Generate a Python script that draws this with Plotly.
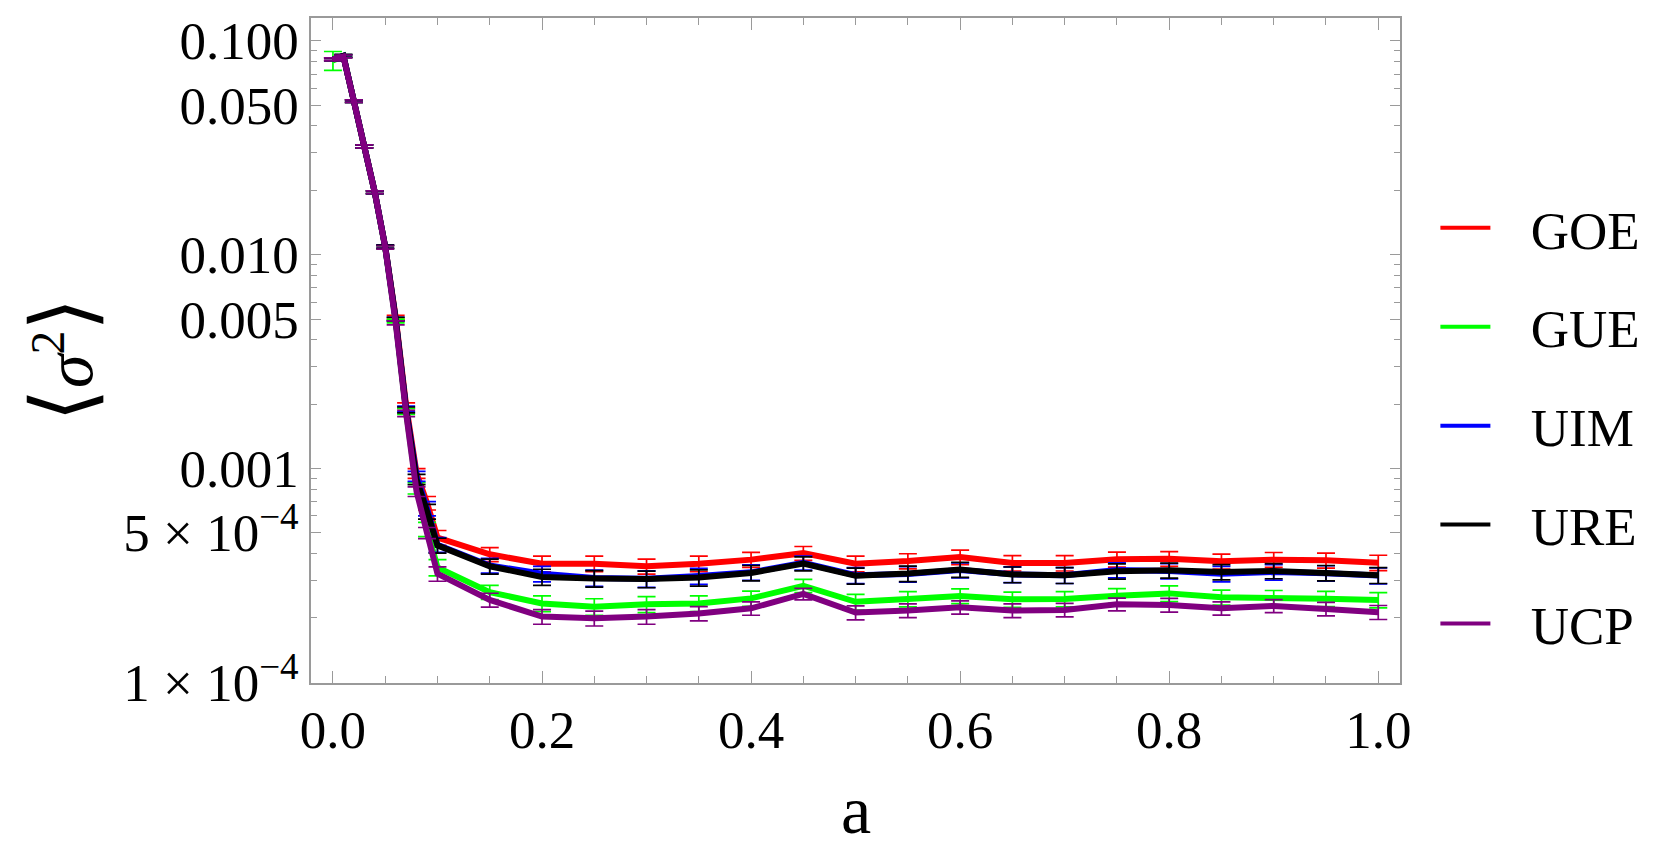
import plotly.graph_objects as go

# --------------------------------------------
# Data
# --------------------------------------------

a_vals = [0.0, 0.01, 0.02, 0.03, 0.04, 0.05, 0.06, 0.07, 0.08, 0.09, 0.1,
          0.15, 0.2, 0.25, 0.3, 0.35, 0.4, 0.45, 0.5, 0.55, 0.6, 0.65,
          0.7, 0.75, 0.8, 0.85, 0.9, 0.95, 1.0]

goe = [0.082, 0.085, 0.0523, 0.0321, 0.0196, 0.0109, 0.0051, 0.00197, 0.00095, 0.00069, 0.000475,
       0.000397, 0.000359, 0.000359, 0.000349, 0.000359, 0.000375, 0.000402, 0.000359,
       0.0003695, 0.0003855, 0.0003617, 0.0003617, 0.0003761, 0.0003788, 0.0003682,
       0.0003748, 0.0003721, 0.000363]
gue = [0.081, 0.085, 0.0523, 0.0321, 0.0196, 0.0108, 0.0049, 0.00185, 0.00081, 0.00052, 0.000345,
       0.000264, 0.000234, 0.000226, 0.000232, 0.000234, 0.000247, 0.000283, 0.000238,
       0.0002454, 0.0002534, 0.0002445, 0.0002454, 0.0002543, 0.0002607, 0.0002498,
       0.0002489, 0.0002463, 0.0002428]
uim = [0.082, 0.085, 0.0523, 0.0321, 0.0196, 0.0109, 0.0050, 0.00190, 0.00092, 0.00065, 0.00044,
       0.000352, 0.000322, 0.000308, 0.000305, 0.000314, 0.000327, 0.000362, 0.000317,
       0.000321, 0.000335, 0.000320, 0.000317, 0.000335, 0.000332, 0.000322,
       0.000328, 0.000324, 0.000316]
ure = [0.082, 0.085, 0.0523, 0.0321, 0.0196, 0.0109, 0.0050, 0.00188, 0.00089, 0.00063, 0.000437,
       0.000349, 0.000311, 0.000306, 0.000304, 0.000309, 0.000325, 0.000359, 0.000315,
       0.0003227, 0.0003368, 0.0003193, 0.000317, 0.0003309, 0.0003344, 0.0003285,
       0.0003321, 0.000325, 0.000317]
ucp = [0.082, 0.0846, 0.0523, 0.0321, 0.0196, 0.0108, 0.0048, 0.00181, 0.00078, 0.00050, 0.000322,
       0.000243, 0.000203, 0.0001995, 0.000203, 0.000210, 0.000222, 0.000259, 0.000212,
       0.0002166, 0.0002245, 0.0002166, 0.0002182, 0.0002318, 0.0002301, 0.0002221,
       0.0002277, 0.0002205, 0.0002128]

# error bar half-lengths
goe_err = [0.0012, 0.0013, 0.0007, 0.0005, 0.0003, 0.00018, 0.0001, 0.00006, 0.00005, 0.00005, 0.000038,
           0.00003, 0.00003, 0.00003, 0.000028, 0.00003, 0.00003, 0.00003, 0.00003,
           0.00003, 0.00003, 0.00003, 0.00003, 0.00003, 0.00003, 0.00003,
           0.00003, 0.00003, 0.00003]
gue_err = [0.0082, 0.0013, 0.0007, 0.0005, 0.0003, 0.00018, 0.0001, 0.00006, 0.00005, 0.00004, 0.00003,
           0.00002, 0.00002, 0.00002, 0.00002, 0.00002, 0.00002, 0.00002, 0.00002,
           0.00002, 0.00002, 0.00002, 0.00002, 0.00002, 0.000022, 0.00002,
           0.00002, 0.00002, 0.00002]
uim_err = [0.0012, 0.0013, 0.0007, 0.0005, 0.0003, 0.00018, 0.0001, 0.00006, 0.00005, 0.00005, 0.000035,
           0.000028, 0.000027, 0.000027, 0.000027, 0.000027, 0.000027, 0.000027, 0.000027,
           0.000027, 0.000027, 0.000027, 0.000027, 0.000027, 0.000027, 0.000027,
           0.000027, 0.000027, 0.000027]
ure_err = [0.0012, 0.0013, 0.0007, 0.0005, 0.0003, 0.00018, 0.0001, 0.00006, 0.00005, 0.00005, 0.000035,
           0.000028, 0.000027, 0.000027, 0.000027, 0.000027, 0.000027, 0.000027, 0.000027,
           0.000027, 0.000027, 0.000027, 0.000027, 0.000027, 0.000027, 0.000027,
           0.000027, 0.000027, 0.000027]
ucp_err = [0.0012, 0.0013, 0.0007, 0.0005, 0.0003, 0.00018, 0.0001, 0.00006, 0.00004, 0.00003, 0.000025,
           0.000018, 0.000016, 0.000016, 0.000016, 0.000016, 0.000016, 0.000016, 0.000016,
           0.000016, 0.000016, 0.000016, 0.000016, 0.000016, 0.000017, 0.000016,
           0.000016, 0.000016, 0.000016]

series_names = ["GOE", "GUE", "UIM", "URE", "UCP"]
series_colors = ["#FF0000", "#00FF00", "#0000FF", "#000000", "#800080"]

y_tickvals = [1e-4, 5e-4, 1e-3, 5e-3, 1e-2, 5e-2, 1e-1]
y_ticktext = ["1 × 10<sup>−4</sup>", "5 × 10<sup>−4</sup>", "0.001", "0.005",
              "0.010", "0.050", "0.100"]
y_minor = [2e-4, 3e-4, 4e-4, 6e-4, 7e-4, 8e-4, 9e-4,
           2e-3, 3e-3, 4e-3, 6e-3, 7e-3, 8e-3, 9e-3,
           2e-2, 3e-2, 4e-2, 6e-2, 7e-2, 8e-2, 9e-2]
x_tickvals = [0.0, 0.2, 0.4, 0.6, 0.8, 1.0]
x_ticktext = ["0.0", "0.2", "0.4", "0.6", "0.8", "1.0"]

FONT = "Liberation Serif, Times New Roman, serif"
AXIS_GREY = "#9a9a9a"
PAD = "\u00a0\u00a0\u2006"  # gap between legend line and label

# --------------------------------------------
# Figure
# --------------------------------------------

fig = go.Figure()

all_y = [goe, gue, uim, ure, ucp]
all_err = [goe_err, gue_err, uim_err, ure_err, ucp_err]

for name, color, ys, errs in zip(series_names, series_colors, all_y, all_err):
    fig.add_trace(go.Scatter(
        x=a_vals, y=ys, mode="lines", name=name, showlegend=False,
        line=dict(color=color, width=6),
        error_y=dict(type="data", array=errs, visible=True,
                     color=color, thickness=1.7, width=9),
    ))

# legend entries with thinner lines
for i, (name, color) in enumerate(zip(series_names, series_colors)):
    fig.add_trace(go.Scatter(
        x=[None], y=[None], mode="lines", name=PAD + name, legendgroup=str(i),
        line=dict(color=color, width=4),
    ))

# the page body adds an 8px offset, so the figure is a bit smaller than the window
fig.update_layout(
    width=1645, height=844,
    margin=dict(l=303, r=253, t=5, b=169),
    plot_bgcolor="white", paper_bgcolor="white",
    font=dict(family=FONT, size=53, color="black"),
    legend=dict(x=1.0325, y=0.746, xanchor="left", yanchor="top",
                font=dict(size=53), tracegroupgap=27, itemwidth=50,
                bgcolor="rgba(0,0,0,0)"),
    annotations=[
        dict(text="a", xref="paper", yref="paper", x=0.5005, y=0,
             xanchor="center", yanchor="middle", yshift=-127,
             showarrow=False, font=dict(size=68)),
        dict(text="<span style='font-size:86px'>⟨</span><i>σ</i><sup>2</sup>"
                  "<span style='font-size:86px'>⟩</span>",
             xref="paper", yref="paper",
             x=-0.2272, y=0.4866, xanchor="center", yanchor="middle",
             textangle=-90, showarrow=False, font=dict(size=68)),
    ],
)

fig.update_xaxes(
    range=[-0.021, 1.0208],
    showline=True, linecolor=AXIS_GREY, linewidth=1.5, mirror="ticks",
    showgrid=False, zeroline=False,
    ticks="inside", ticklen=12, tickwidth=1.2, tickcolor=AXIS_GREY,
    tickvals=x_tickvals, ticktext=x_ticktext, ticklabelstandoff=0,
    minor=dict(ticks="inside", dtick=0.05, tick0=0, ticklen=7,
               tickwidth=1, tickcolor=AXIS_GREY, showgrid=False),
)

fig.update_yaxes(
    type="log", range=[-4.003, -0.893],
    showline=True, linecolor=AXIS_GREY, linewidth=1.5, mirror="ticks",
    showgrid=False, zeroline=False,
    ticks="inside", ticklen=10, tickwidth=1.2, tickcolor=AXIS_GREY,
    tickvals=y_tickvals, ticktext=y_ticktext, ticklabelstandoff=0,
    minor=dict(ticks="inside", tickmode="array", tickvals=y_minor, ticklen=6,
               tickwidth=1, tickcolor=AXIS_GREY, showgrid=False),
)

fig.write_html("out.html")
